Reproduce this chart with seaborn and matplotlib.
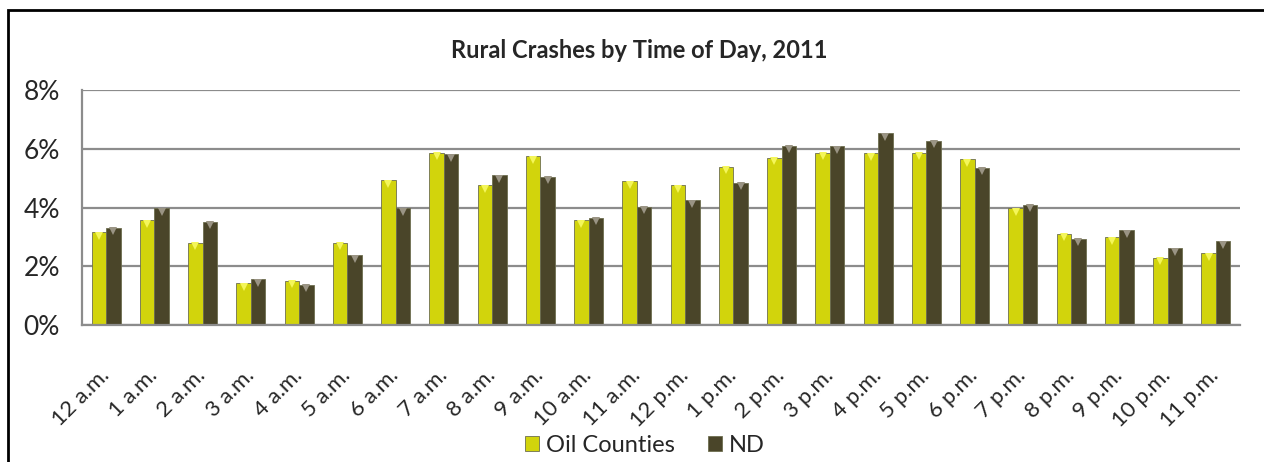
import numpy as np
import pandas as pd
import seaborn as sns
import matplotlib.pyplot as plt
from matplotlib.patches import Rectangle
from matplotlib.ticker import PercentFormatter

### Data ###
hours = ["12 a.m.", "1 a.m.", "2 a.m.", "3 a.m.", "4 a.m.", "5 a.m.", "6 a.m.", "7 a.m.",
         "8 a.m.", "9 a.m.", "10 a.m.", "11 a.m.", "12 p.m.", "1 p.m.", "2 p.m.", "3 p.m.",
         "4 p.m.", "5 p.m.", "6 p.m.", "7 p.m.", "8 p.m.", "9 p.m.", "10 p.m.", "11 p.m."]
oil_counties = [3.15, 3.57, 2.80, 1.42, 1.51, 2.80, 4.92, 5.87, 4.75, 5.74, 3.57, 4.90,
                4.76, 5.38, 5.70, 5.87, 5.84, 5.87, 5.64, 3.97, 3.11, 2.98, 2.29, 2.44]
nd = [3.31, 3.97, 3.51, 1.55, 1.37, 2.38, 3.97, 5.82, 5.10, 5.04, 3.65, 4.02,
      4.25, 4.85, 6.10, 6.08, 6.52, 6.27, 5.35, 4.09, 2.94, 3.23, 2.61, 2.85]
series = ["Oil Counties", "ND"]

df = pd.DataFrame({
    "Hour": hours * 2,
    "Share": np.array(oil_counties + nd) / 100,
    "Series": [series[0]] * len(hours) + [series[1]] * len(hours),
})

### Style ###
sns.set_theme(style="white")
plt.rcParams["font.family"] = ["Lato", "DejaVu Sans"]

colors = {"Oil Counties": "#d2d40c", "ND": "#4a4529"}
tips = {"Oil Counties": "#f4f65a", "ND": "#9a9484"}

fig = plt.figure(figsize=(12.64, 4.62), dpi=100)
ax = fig.add_axes([82 / 1264, 1 - 325 / 462, (1240 - 82) / 1264, (325 - 90) / 462])

sns.barplot(data=df, x="Hour", y="Share", hue="Series", palette=colors,
            width=0.6, gap=0.0, ax=ax, legend=False, saturation=1,
            edgecolor="#6e6e50", linewidth=0.6)

### little bevel triangle on top of every bar ###
for cont, name in zip(ax.containers, series):
    for p in cont.patches:
        ax.plot(p.get_x() + p.get_width() / 2, p.get_height() - 0.0012, marker="v",
                color=tips[name], markersize=6, markeredgewidth=0, zorder=4)

ax.set_ylim(0, 0.08)
ax.set_yticks([0, 0.02, 0.04, 0.06, 0.08])
ax.yaxis.set_major_formatter(PercentFormatter(1.0, decimals=0))
ax.set_xlim(-0.5, len(hours) - 0.5)
ax.yaxis.grid(True, color="#8c8c8c", linewidth=1.6)
ax.set_axisbelow(True)
for s in ["top", "right"]:
    ax.spines[s].set_visible(False)
for s in ["left", "bottom"]:
    ax.spines[s].set_color("#8c8c8c")
    ax.spines[s].set_linewidth(1.6)
ax.set_xlabel("")
ax.set_ylabel("")
ax.tick_params(axis="y", labelsize=19, pad=16, length=0)
ax.tick_params(axis="x", labelsize=16, pad=34, length=0)
plt.setp(ax.get_xticklabels(), rotation=45, ha="right", va="center", rotation_mode="anchor")

fig.text(0.506, 1 - 50 / 462, "Rural Crashes by Time of Day, 2011", ha="center", va="center",
         fontsize=17, fontweight="bold")

### legend ###
handles = [Rectangle((0, 0), 1, 1, facecolor=colors[n], edgecolor="#6e6e50", linewidth=0.6) for n in series]
fig.legend(handles, series, loc="center", bbox_to_anchor=(645 / 1264, 1 - 445 / 462), ncol=2,
           frameon=False, fontsize=17, handlelength=0.6, handleheight=0.6,
           handletextpad=0.3, columnspacing=1.4)

### outer chart border ###
fig.patches.append(Rectangle((8 / 1264, -0.02), 1.1, 1 - 10 / 462 + 0.02, transform=fig.transFigure,
                             fill=False, edgecolor="black", linewidth=2, zorder=10))

fig.savefig("out.png", dpi=100)
